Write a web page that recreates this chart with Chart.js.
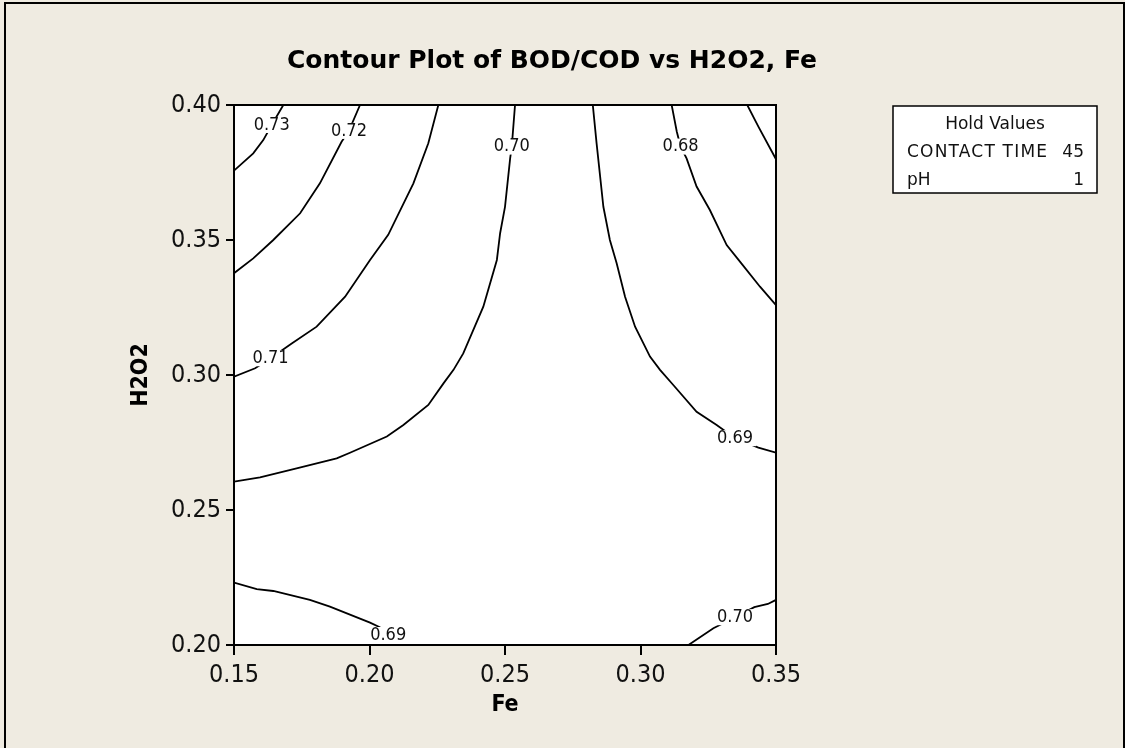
<!DOCTYPE html>
<html>
<head>
<meta charset="utf-8">
<script src="https://cdn.jsdelivr.net/npm/chart.js@4.4.0/dist/chart.umd.min.js"></script>
<style>
  html, body { margin:0; padding:0; background:#efebe1; overflow:hidden; }
  #frame { position:absolute; left:4px; top:2px; width:1121px; height:780px; box-sizing:border-box; border:2px solid #000; border-bottom:none; }
  #wrap { position:absolute; left:0; top:0; width:1125px; height:748px; }
</style>
</head>
<body>
<div id="frame"></div>
<div id="wrap"><canvas id="contour"></canvas></div>
<script>
// ── Data (Fe, H2O2) ────────────────────────────────
const FE_TICKS = [0.15, 0.20, 0.25, 0.30, 0.35];
const H2O2_TICKS = [0.20, 0.25, 0.30, 0.35, 0.40];

const C073 = [[0.1682,0.400],[0.1639,0.3926],[0.1608,0.3870],[0.1571,0.3821],[0.1500,0.3757]];
const C072 = [[0.1965,0.400],[0.1924,0.3904],[0.1897,0.3864],[0.1817,0.3710],[0.1744,0.3599],[0.1645,0.3500],[0.1571,0.3432],[0.1500,0.3377]];
const C071 = [[0.2254,0.400],[0.2217,0.3858],[0.2162,0.3710],[0.2069,0.3519],[0.2002,0.3426],[0.1910,0.3290],[0.1805,0.3179],[0.1713,0.3117],[0.1635,0.3062],[0.1578,0.3025],[0.1500,0.2994]];
const C070_TOP = [[0.2537,0.400],[0.2525,0.3846],[0.2519,0.3802],[0.2500,0.3623],[0.2482,0.3525],[0.2470,0.3426],[0.2420,0.3253],[0.2346,0.3080],[0.2310,0.3019],[0.2273,0.2969],[0.2217,0.2889],[0.2125,0.2815],[0.2064,0.2772],[0.1928,0.2712],[0.1879,0.2691],[0.1731,0.2654],[0.1596,0.2621],[0.1500,0.2605]];
const C069_RIGHT = [[0.2824,0.400],[0.2838,0.3858],[0.2863,0.3623],[0.2887,0.3500],[0.2912,0.3414],[0.2943,0.3290],[0.2980,0.3179],[0.3035,0.3068],[0.3072,0.3019],[0.3121,0.2963],[0.3207,0.2864],[0.3281,0.2815],[0.3349,0.2766],[0.3435,0.2731],[0.3500,0.2712]];
const C068 = [[0.3115,0.400],[0.3134,0.3901],[0.3148,0.3846],[0.3170,0.3802],[0.3207,0.3698],[0.3256,0.3611],[0.3318,0.3481],[0.3367,0.3420],[0.3441,0.3327],[0.3500,0.3259]];
const C067 = [[0.3394,0.400],[0.3435,0.3920],[0.3500,0.3799]];
const C069_BOTTOM = [[0.1500,0.2231],[0.1584,0.2207],[0.1645,0.2200],[0.1780,0.2167],[0.1854,0.2142],[0.2002,0.2083],[0.2040,0.2065]];
const C070_BOTTOM = [[0.3177,0.2000],[0.3269,0.2062],[0.3349,0.2103],[0.3420,0.2140],[0.3470,0.2152],[0.3500,0.2167]];

const CONTOURS = [C073, C072, C071, C070_TOP, C069_RIGHT, C068, C067, C069_BOTTOM, C070_BOTTOM];

const LABEL_TEXT = ["0.73", "0.72", "0.70", "0.68", "0.71", "0.69", "0.69", "0.70"];
const LABEL_FE   = [0.1639, 0.1924, 0.2525, 0.3148, 0.1635, 0.3349, 0.2069, 0.3349];
const LABEL_H2O2 = [0.3926, 0.3904, 0.3846, 0.3846, 0.3062, 0.2766, 0.2037, 0.2103];

const TITLE = "Contour Plot of BOD/COD vs H2O2, Fe";
const HOLD_NAMES = ["CONTACT TIME", "pH"];
const HOLD_VALUES = ["45", "1"];

const FONT = "'DejaVu Sans Condensed', 'DejaVu Sans', sans-serif";
const WIDE = "'DejaVu Sans', sans-serif";

// ── Extras: plot background, contour labels, frame, title, hold box ──
const extras = {
  id: "extras",
  beforeDraw(chart) {
    const { ctx, chartArea: a } = chart;
    ctx.save();
    ctx.fillStyle = "#ffffff";
    ctx.fillRect(a.left, a.top, a.right - a.left, a.bottom - a.top);
    ctx.restore();
  },
  afterDatasetsDraw(chart) {
    const { ctx, scales } = chart;
    ctx.save();
    ctx.font = "18px " + FONT;
    ctx.textAlign = "center";
    ctx.textBaseline = "middle";
    LABEL_TEXT.forEach((t, i) => {
      const x = scales.x.getPixelForValue(LABEL_FE[i]);
      const y = scales.y.getPixelForValue(LABEL_H2O2[i]);
      const w = ctx.measureText(t).width + 6;
      ctx.fillStyle = "#ffffff";
      ctx.fillRect(x - w / 2, y - 8, w, 16);
      ctx.fillStyle = "#111";
      ctx.fillText(t, x, y);
    });
    ctx.restore();
  },
  afterDraw(chart) {
    const { ctx, chartArea: a } = chart;
    ctx.save();
    ctx.strokeStyle = "#000";
    ctx.lineWidth = 2;
    ctx.strokeRect(a.left, a.top, a.right - a.left, a.bottom - a.top);

    // title
    ctx.fillStyle = "#000";
    ctx.font = "bold 25px " + WIDE;
    ctx.textAlign = "center";
    ctx.textBaseline = "middle";
    ctx.fillText(TITLE, 552, 61);

    // hold values box
    ctx.fillStyle = "#ffffff";
    ctx.fillRect(893, 106, 204, 87);
    ctx.lineWidth = 1.5;
    ctx.strokeRect(893, 106, 204, 87);
    ctx.fillStyle = "#111";
    ctx.font = "17px " + WIDE;
    ctx.fillText("Hold Values", 995, 125);
    HOLD_NAMES.forEach((n, i) => {
      const y = 153 + i * 28;
      ctx.textAlign = "left";
      ctx.letterSpacing = i === 0 ? "1.2px" : "0px";
      ctx.fillText(n, 907, y);
      ctx.letterSpacing = "0px";
      ctx.textAlign = "right";
      ctx.fillText(HOLD_VALUES[i], 1084, y);
    });
    ctx.restore();
  }
};

const tickFont = { family: FONT, size: 25 };

new Chart(document.getElementById("contour"), {
  type: "scatter",
  data: {
    datasets: CONTOURS.map(c => ({
      data: c.map(p => ({ x: p[0], y: p[1] })),
      showLine: true,
      borderColor: "#000",
      borderWidth: 1.8,
      pointRadius: 0,
      tension: 0,
      fill: false,
    })),
  },
  options: {
    responsive: true,
    maintainAspectRatio: false,
    animation: false,
    layout: { padding: { left: 0, top: 105, right: 349, bottom: 0 } },
    plugins: { legend: { display: false }, tooltip: { enabled: false }, title: { display: false } },
    scales: {
      x: {
        type: "linear", min: 0.15, max: 0.35,
        afterBuildTicks: s => { s.ticks = FE_TICKS.map(v => ({ value: v })); },
        afterFit: s => { s.height = 103; },
        grid: { drawOnChartArea: false, drawTicks: true, tickLength: 10, color: "#000", lineWidth: 2 },
        border: { color: "#000", width: 2 },
        ticks: { color: "#111", font: tickFont, padding: 5, maxRotation: 0, autoSkip: false, callback: v => v.toFixed(2) },
        title: { display: true, text: "Fe", color: "#000", font: { family: FONT, size: 23, weight: "bold" }, padding: { top: 0, bottom: 29 } },
      },
      y: {
        type: "linear", min: 0.20, max: 0.40,
        afterBuildTicks: s => { s.ticks = H2O2_TICKS.map(v => ({ value: v })); },
        afterFit: s => { s.width = 234; },
        grid: { drawOnChartArea: false, drawTicks: true, tickLength: 8, color: "#000", lineWidth: 2 },
        border: { color: "#000", width: 2 },
        ticks: { color: "#111", font: tickFont, padding: 5, autoSkip: false, callback: v => v.toFixed(2) },
        title: { display: true, text: "H2O2", color: "#000", font: { family: FONT, size: 23, weight: "bold" }, padding: { top: 127, bottom: 0 } },
      },
    },
  },
  plugins: [extras],
});
</script>
</body>
</html>
